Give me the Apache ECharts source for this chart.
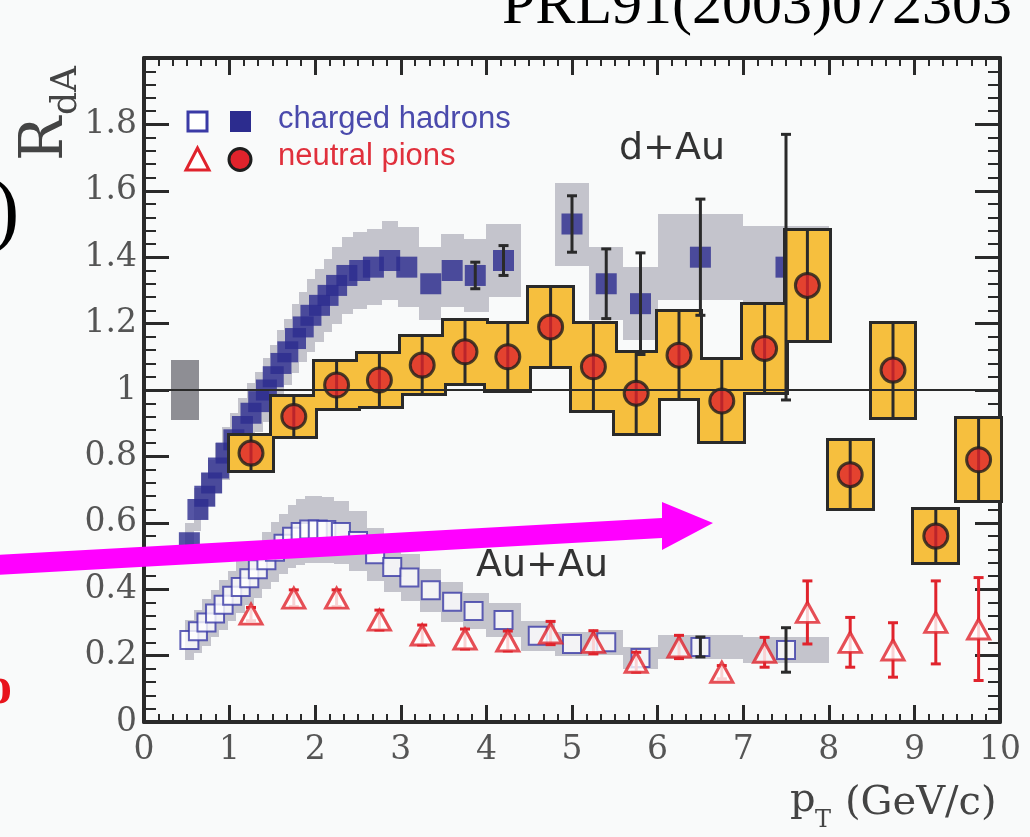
<!DOCTYPE html>
<html>
<head>
<meta charset="utf-8">
<script src="https://cdn.jsdelivr.net/npm/echarts@6/dist/echarts.min.js"></script>
<style>
  html, body { margin: 0; padding: 0; background: #f9fafa; }
  #chart { width: 1030px; height: 837px; }
</style>
</head>
<body>
<div id="chart"></div>
<script>
// ---------------- data ----------------
// d+Au neutral pions: pT bin centres, R_dA, systematic half-height
const pi0DAuPt  = [1.25, 1.75, 2.25, 2.75, 3.25, 3.75, 4.25, 4.75, 5.25, 5.75, 6.25, 6.75, 7.25, 7.75, 8.25, 8.75, 9.25, 9.75];
const pi0DAuR   = [0.81, 0.92, 1.015, 1.03, 1.075, 1.115, 1.10, 1.19, 1.07, 0.99, 1.105, 0.967, 1.125, 1.315, 0.745, 1.06, 0.56, 0.79];
const pi0DAuSys = [0.05, 0.06, 0.07, 0.078, 0.085, 0.093, 0.10, 0.117, 0.13, 0.12, 0.13, 0.122, 0.13, 0.165, 0.10, 0.14, 0.078, 0.122];
const pi0BinWidth = 0.5;

// d+Au charged hadrons
const hadDAuPt   = [0.53, 0.63, 0.71, 0.79, 0.87, 0.96, 1.05, 1.15, 1.25, 1.34, 1.43, 1.51, 1.60, 1.68, 1.77, 1.86, 1.95, 2.05, 2.15, 2.25, 2.37, 2.52, 2.68, 2.87, 3.07, 3.35, 3.60, 3.87, 4.20, 5.00, 5.40, 5.80, 6.50, 7.50];
const hadDAuR    = [0.54, 0.64, 0.68, 0.72, 0.765, 0.81, 0.85, 0.89, 0.93, 0.965, 1.0, 1.04, 1.08, 1.115, 1.155, 1.19, 1.225, 1.255, 1.285, 1.315, 1.345, 1.36, 1.37, 1.39, 1.37, 1.32, 1.36, 1.345, 1.39, 1.50, 1.32, 1.26, 1.40, 1.37];
const hadDAuSys  = [0.06, 0.065, 0.07, 0.07, 0.075, 0.08, 0.08, 0.085, 0.09, 0.09, 0.095, 0.095, 0.10, 0.10, 0.105, 0.105, 0.11, 0.11, 0.11, 0.115, 0.115, 0.115, 0.115, 0.12, 0.12, 0.11, 0.11, 0.11, 0.11, 0.125, 0.11, 0.11, 0.13, 0.125];
const hadDAuStat = [0, 0, 0, 0, 0, 0, 0, 0, 0, 0, 0, 0, 0, 0, 0, 0, 0, 0, 0, 0, 0, 0, 0, 0, 0, 0, 0, 0.04, 0.045, 0.085, 0.105, 0.153, 0.175, 0.40];
const hadDAuWideBins = [[4.0, 4.4], [4.8, 5.2], [5.2, 5.6], [5.6, 6.0], [6.0, 7.0], [7.0, 8.0]];

// Au+Au charged hadrons
const hadAuAuPt   = [0.53, 0.63, 0.73, 0.83, 0.93, 1.03, 1.13, 1.23, 1.33, 1.43, 1.53, 1.63, 1.73, 1.83, 1.93, 2.03, 2.13, 2.30, 2.50, 2.70, 2.90, 3.10, 3.35, 3.60, 3.85, 4.20, 4.60, 5.00, 5.40, 5.80, 6.50, 7.50];
const hadAuAuR    = [0.247, 0.273, 0.30, 0.327, 0.353, 0.38, 0.407, 0.433, 0.46, 0.487, 0.513, 0.537, 0.558, 0.572, 0.58, 0.58, 0.578, 0.572, 0.545, 0.505, 0.467, 0.435, 0.397, 0.362, 0.334, 0.307, 0.26, 0.235, 0.24, 0.193, 0.226, 0.217];
const hadAuAuSys  = [0.06, 0.065, 0.07, 0.07, 0.075, 0.075, 0.08, 0.08, 0.085, 0.085, 0.09, 0.09, 0.095, 0.10, 0.10, 0.10, 0.10, 0.095, 0.09, 0.08, 0.075, 0.07, 0.065, 0.06, 0.055, 0.05, 0.045, 0.035, 0.038, 0.032, 0.037, 0.04];
const hadAuAuStat = [0, 0, 0, 0, 0, 0, 0, 0, 0, 0, 0, 0, 0, 0, 0, 0, 0, 0, 0, 0, 0, 0, 0, 0, 0, 0, 0, 0, 0, 0, 0.03, 0.067];
const hadAuAuWideBins = [[4.0, 4.4], [4.4, 4.8], [4.8, 5.2], [5.2, 5.6], [5.6, 6.0], [6.0, 7.0], [7.0, 8.0]];

// Au+Au neutral pions
const pi0AuAuPt   = [1.25, 1.75, 2.25, 2.75, 3.25, 3.75, 4.25, 4.75, 5.25, 5.75, 6.25, 6.75, 7.25, 7.75, 8.25, 8.75, 9.25, 9.75];
const pi0AuAuR    = [0.325, 0.373, 0.373, 0.307, 0.262, 0.25, 0.244, 0.268, 0.24, 0.18, 0.226, 0.15, 0.21, 0.33, 0.24, 0.217, 0.30, 0.28];
const pi0AuAuStat = [0.02, 0.025, 0.025, 0.03, 0.03, 0.03, 0.03, 0.035, 0.035, 0.03, 0.035, 0.02, 0.045, 0.095, 0.075, 0.082, 0.125, 0.155];

// d+Au normalisation uncertainty at R = 1
const normBoxPt = [0.32, 0.64];
const normBoxR  = [0.91, 1.09];

// axis tick labels
const xTickLabels = ['0', '1', '2', '3', '4', '5', '6', '7', '8', '9', '10'];
const yTickLabels = ['0', '0.2', '0.4', '0.6', '0.8', '1', '1.2', '1.4', '1.6', '1.8', ''];

// ---------------- helpers ----------------
function binEdges(pts, wide) {
  const n = pts.length, t0 = n - wide.length;
  return pts.map((x, i) => {
    if (i >= t0) return wide[i - t0];
    const lo = i > 0 ? (pts[i - 1] + x) / 2 : x - (pts[1] - x) / 2;
    const hi = (pts[i + 1] + x) / 2;
    return [lo, hi];
  });
}

function bandData(pts, vals, sys, edges) {
  return pts.map((x, i) => [x, vals[i], edges[i][0], edges[i][1], sys[i]]);
}

function rectFor(api, pad) {
  const a = api.coord([api.value(2), api.value(1) + api.value(4)]);
  const b = api.coord([api.value(3), api.value(1) - api.value(4)]);
  const x0 = Math.round(a[0]) - pad, y0 = Math.round(a[1]) - pad;
  const x1 = Math.round(b[0]) + pad, y1 = Math.round(b[1]) + pad;
  return { x: x0, y: y0, width: x1 - x0, height: y1 - y0 };
}

function rectRenderer(fill, pad) {
  return (params, api) => ({ type: 'rect', shape: rectFor(api, pad), style: { fill: fill } });
}

function errRenderer(color, width, cap) {
  return (params, api) => {
    const x = api.value(0), y = api.value(1), e = api.value(2);
    const t = api.coord([x, y + e]), b = api.coord([x, y - e]);
    const st = { stroke: color, lineWidth: width };
    return {
      type: 'group',
      children: [
        { type: 'line', shape: { x1: t[0], y1: t[1], x2: b[0], y2: b[1] }, style: st },
        { type: 'line', shape: { x1: t[0] - cap, y1: t[1], x2: t[0] + cap, y2: t[1] }, style: st },
        { type: 'line', shape: { x1: b[0] - cap, y1: b[1], x2: b[0] + cap, y2: b[1] }, style: st }
      ]
    };
  };
}

function errData(pts, vals, errs) {
  return pts.map((x, i) => [x, vals[i], errs[i]]).filter(d => d[2] > 0);
}

// ---------------- derived series data ----------------
const pi0DAuBoxes = bandData(pi0DAuPt, pi0DAuR, pi0DAuSys,
  pi0DAuPt.map(x => [x - pi0BinWidth / 2, x + pi0BinWidth / 2]));
const hadDAuBand  = bandData(hadDAuPt, hadDAuR, hadDAuSys, binEdges(hadDAuPt, hadDAuWideBins));
const hadAuAuBand = bandData(hadAuAuPt, hadAuAuR, hadAuAuSys, binEdges(hadAuAuPt, hadAuAuWideBins));
const normBox = [[(normBoxPt[0] + normBoxPt[1]) / 2, (normBoxR[0] + normBoxR[1]) / 2,
  normBoxPt[0], normBoxPt[1], (normBoxR[1] - normBoxR[0]) / 2]];

const zip = (a, b) => a.map((x, i) => [x, b[i]]);

// ---------------- chart ----------------
const INK = '#2a2a2a';
const BAND = '#c4c4cc';
const YELLOW = '#f6bf3e';
const NAVY = '#2c2c8e';
const BLUE = '#3a3aa6';
const RED = '#e0232c';
const SERIF = '"DejaVu Serif"';

const axisCommon = {
  type: 'value',
  axisLine: { show: true, onZero: false, lineStyle: { color: INK, width: 4 } },
  splitLine: { show: false }
};

const chart = echarts.init(document.getElementById('chart'), null, { renderer: 'canvas' });

chart.setOption({
  animation: false,
  backgroundColor: '#f9fafa',
  grid: { left: 144, right: 30, top: 58, bottom: 115 },
  xAxis: [
    Object.assign({}, axisCommon, {
      min: 0, max: 10, interval: 1, position: 'bottom',
      axisTick: { inside: true, length: 17, lineStyle: { color: INK, width: 3 } },
      minorTick: { show: true, splitNumber: 6, length: 8, lineStyle: { color: INK, width: 2 } },
      axisLabel: {
        color: '#555', fontFamily: 'DejaVu Serif', fontSize: 33, margin: 12,
        formatter: v => xTickLabels[Math.round(v)]
      }
    }),
    Object.assign({}, axisCommon, {
      min: 0, max: 10, interval: 1, position: 'top',
      axisTick: { inside: true, length: 17, lineStyle: { color: INK, width: 3 } },
      minorTick: { show: true, splitNumber: 6, length: 8, lineStyle: { color: INK, width: 2 } },
      axisLabel: { show: false }
    })
  ],
  yAxis: [
    Object.assign({}, axisCommon, {
      min: 0, max: 2, interval: 0.2, position: 'left',
      axisTick: { inside: true, length: 25, lineStyle: { color: INK, width: 3 } },
      minorTick: { show: true, splitNumber: 5, length: 12, lineStyle: { color: INK, width: 2 } },
      axisLabel: {
        color: '#555', fontFamily: 'DejaVu Serif', fontSize: 33, margin: 7,
        formatter: v => yTickLabels[Math.round(v * 5)]
      }
    }),
    Object.assign({}, axisCommon, {
      min: 0, max: 2, interval: 0.2, position: 'right',
      axisTick: { inside: true, length: 25, lineStyle: { color: INK, width: 3 } },
      minorTick: { show: true, splitNumber: 5, length: 12, lineStyle: { color: INK, width: 2 } },
      axisLabel: { show: false }
    })
  ],
  series: [
    // systematic bands of the charged hadrons
    { type: 'custom', name: 'dAu h band', z: 1, silent: true, data: hadDAuBand, renderItem: rectRenderer(BAND, 0) },
    { type: 'custom', name: 'AuAu h band', z: 1, silent: true, data: hadAuAuBand, renderItem: rectRenderer(BAND, 0) },
    // normalisation box
    { type: 'custom', name: 'norm', z: 2, silent: true, data: normBox, renderItem: rectRenderer('#8e8e94', 0) },
    // d+Au charged hadrons
    { type: 'scatter', name: 'dAu h', z: 3, data: zip(hadDAuPt, hadDAuR), symbol: 'rect', symbolSize: 21,
      itemStyle: { color: NAVY } },
    // Au+Au charged hadrons
    { type: 'scatter', name: 'AuAu h', z: 3, data: zip(hadAuAuPt, hadAuAuR), symbol: 'rect', symbolSize: 18,
      itemStyle: { color: '#ffffff', borderColor: BLUE, borderWidth: 2 } },
    { type: 'custom', name: 'AuAu h err', z: 4, silent: true, data: errData(hadAuAuPt, hadAuAuR, hadAuAuStat),
      renderItem: errRenderer(INK, 3, 5) },
    // d+Au pi0 systematic boxes: outline pass, fill pass, centre line
    { type: 'custom', name: 'dAu pi0 box edge', z: 4, silent: true, data: pi0DAuBoxes, renderItem: rectRenderer(INK, 3) },
    { type: 'custom', name: 'dAu pi0 box', z: 5, silent: true, data: pi0DAuBoxes, renderItem: rectRenderer(YELLOW, 0) },
    { type: 'custom', name: 'dAu pi0 err', z: 6, silent: true, data: pi0DAuBoxes,
      renderItem: (params, api) => {
        const r = rectFor(api, 0);
        const cx = api.coord([api.value(0), 0])[0];
        return { type: 'line', shape: { x1: cx, y1: r.y, x2: cx, y2: r.y + r.height }, style: { stroke: INK, lineWidth: 3 } };
      } },
    { type: 'custom', name: 'dAu h err', z: 7, silent: true, data: errData(hadDAuPt, hadDAuR, hadDAuStat),
      renderItem: errRenderer(INK, 3, 5) },
    { type: 'scatter', name: 'dAu pi0', z: 8, data: zip(pi0DAuPt, pi0DAuR), symbol: 'circle', symbolSize: 24,
      itemStyle: { color: RED, borderColor: '#1e1e1e', borderWidth: 3 } },
    // Au+Au pi0
    { type: 'custom', name: 'AuAu pi0 err', z: 7, silent: true, data: errData(pi0AuAuPt, pi0AuAuR, pi0AuAuStat),
      renderItem: errRenderer(RED, 3, 5) },
    { type: 'scatter', name: 'AuAu pi0', z: 8, data: zip(pi0AuAuPt, pi0AuAuR), symbol: 'triangle', symbolSize: [22, 20],
      itemStyle: { color: '#ffffff', borderColor: RED, borderWidth: 3 } },
    // R = 1 reference line
    { type: 'line', name: 'unity', z: 9, silent: true, data: [[0, 1], [10, 1]], showSymbol: false, symbol: 'none',
      lineStyle: { color: INK, width: 2 } }
  ],
  graphic: [
    // legend keys
    { type: 'rect', z: 20, shape: { x: 188, y: 112, width: 19, height: 19 }, style: { fill: '#fff', stroke: BLUE, lineWidth: 3 } },
    { type: 'rect', z: 20, shape: { x: 230, y: 111, width: 21, height: 21 }, style: { fill: NAVY } },
    { type: 'polygon', z: 20, shape: { points: [[197.5, 148], [186, 170], [209, 170]] }, style: { fill: '#fff', stroke: RED, lineWidth: 3 } },
    { type: 'circle', z: 20, shape: { cx: 240, cy: 159.5, r: 11 }, style: { fill: RED, stroke: '#1e1e1e', lineWidth: 3 } },
    { type: 'text', z: 20, style: { text: 'charged hadrons', x: 278, y: 119, font: '31px "Liberation Sans"', fill: '#4a4aac', textVerticalAlign: 'middle', verticalAlign: 'middle' } },
    { type: 'text', z: 20, style: { text: 'neutral pions', x: 278, y: 156, font: '31px "Liberation Sans"', fill: '#e0303c', textVerticalAlign: 'middle', verticalAlign: 'middle' } },
    // collision system labels
    { type: 'text', z: 20, style: { text: 'd+Au', x: 619, y: 149, font: '38px "DejaVu Sans"', fill: '#333', textVerticalAlign: 'middle', verticalAlign: 'middle' } },
    { type: 'text', z: 20, style: { text: 'Au+Au', x: 476, y: 566, font: '38px "DejaVu Sans"', fill: '#333', textVerticalAlign: 'middle', verticalAlign: 'middle' } },
    // axis titles
    { type: 'group', x: 47, y: 161, rotation: Math.PI / 2, z: 20, children: [
      { type: 'text', style: { text: 'R', x: 0, y: 0, font: '59px ' + SERIF, fill: '#444', textVerticalAlign: 'middle', verticalAlign: 'middle' } },
      { type: 'text', style: { text: 'dA', x: 46, y: 20, font: '36px ' + SERIF, fill: '#444', textVerticalAlign: 'middle', verticalAlign: 'middle' } }
    ] },
    { type: 'text', z: 20, style: { text: 'p', x: 790, y: 801, font: '40px ' + SERIF, fill: '#444', textVerticalAlign: 'middle', verticalAlign: 'middle' } },
    { type: 'text', z: 20, style: { text: 'T', x: 815, y: 821, font: '24px ' + SERIF, fill: '#444', textVerticalAlign: 'middle', verticalAlign: 'middle' } },
    { type: 'text', z: 20, style: { text: '(GeV/c)', x: 845, y: 804, font: '40px ' + SERIF, fill: '#444', textVerticalAlign: 'middle', verticalAlign: 'middle' } },
    // citation
    { type: 'text', z: 20, style: { text: 'PRL91(2003)072303', x: 1012, y: 7, font: '60px "Liberation Serif"', fill: '#000', textAlign: 'right', align: 'right', textVerticalAlign: 'middle', verticalAlign: 'middle' } },
    // fragments of neighbouring slide text
    { type: 'text', z: 20, style: { text: ')', x: -8, y: 214, font: '82px "Liberation Serif"', fill: '#000', textVerticalAlign: 'middle', verticalAlign: 'middle' } },
    { type: 'text', z: 20, style: { text: 'o', x: -14, y: 690, font: 'bold 52px "Liberation Serif"', fill: '#e8141c', textVerticalAlign: 'middle', verticalAlign: 'middle' } },
    // highlight arrow
    { type: 'polygon', z: 30, shape: { points: [[-5, 555], [662, 518], [662, 502], [713, 523], [662, 550], [662, 538], [-5, 575]] },
      style: { fill: '#ff00ff' } }
  ]
});
</script>
</body>
</html>
